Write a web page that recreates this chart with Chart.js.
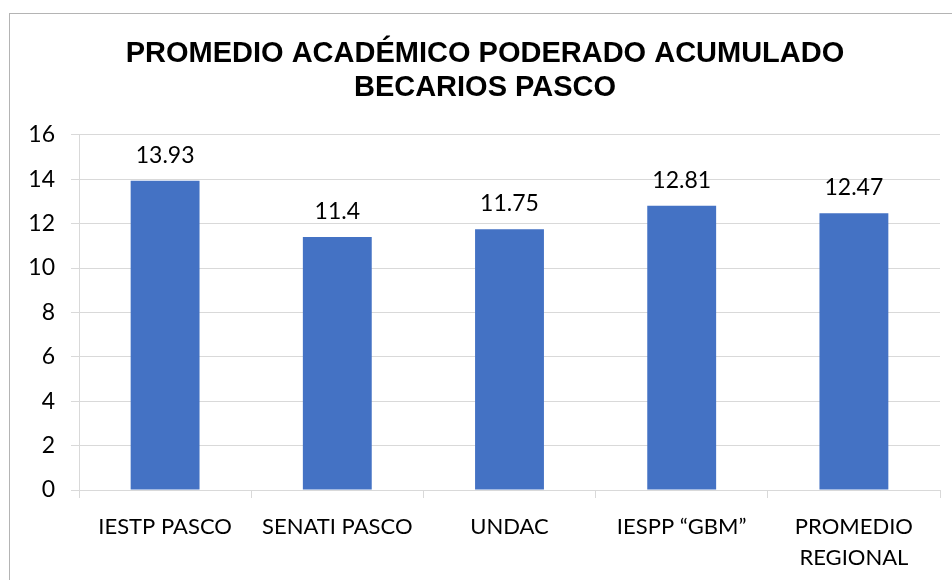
<!DOCTYPE html>
<html>
<head>
<meta charset="utf-8">
<script src="https://cdn.jsdelivr.net/npm/chart.js@4"></script>
<style>
    html, body { margin: 0; padding: 0; background: #fff; overflow: hidden; }
    #wrap { position: relative; width: 952px; height: 580px; }
    #frame { position: absolute; left: 9px; top: 13px; width: 1000px; height: 1000px; border: 1px solid #b4b4b4; pointer-events: none; }
</style>
</head>
<body>
<div id="wrap">
    <canvas id="chart" width="952" height="580"></canvas>
    <div id="frame"></div>
</div>
<script>
// Data
const CATEGORIES = ['IESTP PASCO', 'SENATI PASCO', 'UNDAC', 'IESPP \u201cGBM\u201d', ['PROMEDIO', 'REGIONAL']];
const VALUES = [13.93, 11.4, 11.75, 12.81, 12.47];
const Y_TICKS = [0, 2, 4, 6, 8, 10, 12, 14, 16];
const TITLE_LINES = ['PROMEDIO ACAD\u00c9MICO PODERADO ACUMULADO', 'BECARIOS PASCO'];

const BAR_COLOR = '#4472C4';
const GRID_COLOR = '#d9d9d9';
const TEXT_FONT = 'Lato';

// Value labels above bars
const valueLabels = {
    id: 'valueLabels',
    afterDatasetsDraw(chart) {
        const ctx = chart.ctx;
        const meta = chart.getDatasetMeta(0);
        ctx.save();
        ctx.font = `23px ${TEXT_FONT}`;
        ctx.fillStyle = '#000';
        ctx.textAlign = 'center';
        ctx.textBaseline = 'bottom';
        meta.data.forEach((bar, i) => {
            ctx.fillText(String(VALUES[i]), bar.x, bar.y - 14);
        });
        ctx.restore();
    }
};

function drawChart() {
    const ctx = document.getElementById('chart');

    new Chart(ctx, {
        type: 'bar',
        data: {
            labels: CATEGORIES,
            datasets: [{
                data: VALUES,
                backgroundColor: BAR_COLOR,
                categoryPercentage: 1,
                barPercentage: 0.4
            }]
        },
        options: {
            responsive: false,
            animation: false,
            layout: { padding: { left: 30, right: 12, top: 0, bottom: 0 } },
            plugins: {
                legend: { display: false },
                tooltip: { enabled: false },
                title: {
                    display: true,
                    text: TITLE_LINES,
                    color: '#000',
                    font: { family: 'Liberation Sans', size: 29, weight: 'bold', lineHeight: 1.17 },
                    padding: { top: 37, bottom: 30 }
                }
            },
            scales: {
                x: {
                    grid: { offset: true, drawOnChartArea: false, tickLength: 8, color: GRID_COLOR },
                    border: { color: GRID_COLOR },
                    ticks: {
                        color: '#000',
                        padding: 14,
                        maxRotation: 0,
                        autoSkip: false,
                        font: { family: TEXT_FONT, size: 22, lineHeight: 1.4 }
                    },
                    afterFit(scale) { scale.height = 90; }
                },
                y: {
                    min: 0,
                    max: 16,
                    afterBuildTicks(scale) {
                        scale.ticks = Y_TICKS.map(v => ({ value: v }));
                    },
                    grid: { tickLength: 8, color: GRID_COLOR },
                    border: { color: GRID_COLOR },
                    ticks: {
                        color: '#000',
                        padding: 16,
                        font: { family: TEXT_FONT, size: 23 }
                    },
                    afterFit(scale) { scale.width = 49; }
                }
            }
        },
        plugins: [valueLabels]
    });
}

Promise.all([
    document.fonts.load(`22px ${TEXT_FONT}`),
    document.fonts.load('bold 29px "Liberation Sans"')
]).catch(() => {}).then(drawChart);
</script>
</body>
</html>
